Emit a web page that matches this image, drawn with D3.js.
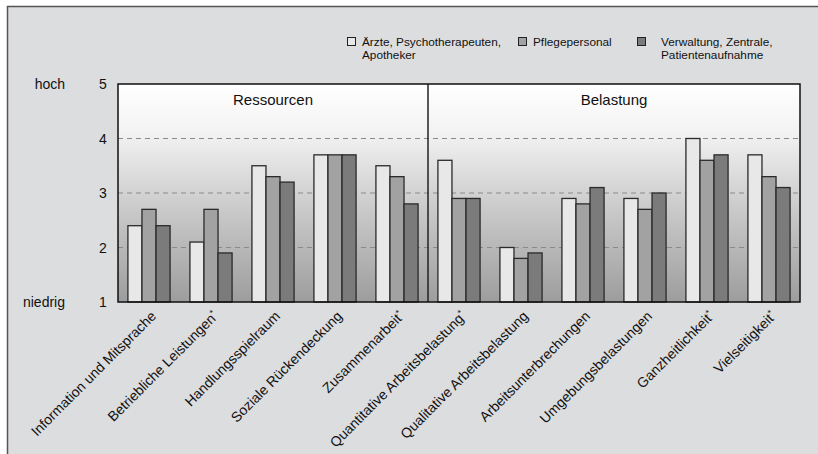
<!DOCTYPE html>
<html>
<head>
<meta charset="utf-8">
<script src="https://cdn.jsdelivr.net/npm/d3@7"></script>
<style>
  html, body { margin: 0; padding: 0; background: #ffffff; }
  svg { display: block; font-family: "Liberation Sans", Arial, Helvetica, sans-serif; }
</style>
</head>
<body>
<svg id="chart" width="818" height="454"></svg>
<script>
// Skalenwerte 1 (niedrig) bis 5 (hoch) je Berufsgruppe
const categories = [
  "Information und Mitsprache",
  "Betriebliche Leistungen*",
  "Handlungsspielraum",
  "Soziale Rückendeckung",
  "Zusammenarbeit*",
  "Quantitative Arbeitsbelastung*",
  "Qualitative Arbeitsbelastung",
  "Arbeitsunterbrechungen",
  "Umgebungsbelastungen",
  "Ganzheitlichkeit*",
  "Vielseitigkeit*"
];
const seriesNames = [
  ["Ärzte, Psychotherapeuten,", "Apotheker"],
  ["Pflegepersonal"],
  ["Verwaltung, Zentrale,", "Patientenaufnahme"]
];
const aerzte      = [2.4, 2.1, 3.5, 3.7, 3.5, 3.6, 2.0, 2.9, 2.9, 4.0, 3.7];
const pflege      = [2.7, 2.7, 3.3, 3.7, 3.3, 2.9, 1.8, 2.8, 2.7, 3.6, 3.3];
const verwaltung  = [2.4, 1.9, 3.2, 3.7, 2.8, 2.9, 1.9, 3.1, 3.0, 3.7, 3.1];
const yTicks = [1, 2, 3, 4, 5];
const sections = [
  { name: "Ressourcen", from: 0, to: 4 },
  { name: "Belastung",  from: 5, to: 10 }
];
const colors = ["#e8e8e8", "#a2a2a2", "#7b7b7b"];

const series = [aerzte, pflege, verwaltung];

const svg = d3.select("#chart");
const W = 818, H = 454;

// Hintergrund mit Rahmen links und oben
svg.append("rect").attr("x", 7).attr("y", 6).attr("width", W - 7).attr("height", H - 6)
  .attr("fill", "#dcdddf");
svg.append("path").attr("d", `M7.5,${H} V6.5 H${W}`)
  .attr("fill", "none").attr("stroke", "#555").attr("stroke-width", 1.5);

const plot = { left: 118, right: 800, top: 84, bottom: 302 };

const x0 = d3.scaleBand().domain(categories)
  .range([plot.left, plot.right]).paddingInner(0.32).paddingOuter(0.16);
const x1 = d3.scaleBand().domain(d3.range(series.length)).range([0, x0.bandwidth()]);
const y = d3.scaleLinear().domain([1, 5]).range([plot.bottom, plot.top]);

// Verlauf im Diagrammbereich
const defs = svg.append("defs");
const grad = defs.append("linearGradient").attr("id", "bg").attr("x1", 0).attr("y1", 0).attr("x2", 0).attr("y2", 1);
[[0, "#ffffff"], [0.22, "#f3f3f3"], [0.5, "#d2d2d2"], [1, "#9d9d9d"]].forEach(([o, c]) =>
  grad.append("stop").attr("offset", o).attr("stop-color", c));

svg.append("rect")
  .attr("x", plot.left).attr("y", plot.top)
  .attr("width", plot.right - plot.left).attr("height", plot.bottom - plot.top)
  .attr("fill", "url(#bg)");

// gestrichelte Hilfslinien
svg.append("g").selectAll("line").data(yTicks.filter(t => t > 1 && t < 5)).join("line")
  .attr("x1", plot.left).attr("x2", plot.right)
  .attr("y1", d => y(d)).attr("y2", d => y(d))
  .attr("stroke", "#8a8a8a").attr("stroke-width", 1).attr("stroke-dasharray", "5,4");

// Balken
const groups = svg.append("g").selectAll("g").data(categories).join("g")
  .attr("transform", d => `translate(${x0(d)},0)`);
groups.selectAll("rect")
  .data((d, i) => series.map((s, k) => ({ k, v: s[i] })))
  .join("rect")
  .attr("x", d => x1(d.k))
  .attr("y", d => y(d.v))
  .attr("width", x1.bandwidth())
  .attr("height", d => y(1) - y(d.v))
  .attr("fill", d => colors[d.k])
  .attr("stroke", "#2a2a2a").attr("stroke-width", 1.3);

// Trennlinie zwischen Ressourcen und Belastung
const step = x0.step();
const divX = x0(categories[sections[1].from]) - step * x0.paddingInner() / 2;
svg.append("line").attr("x1", divX).attr("x2", divX)
  .attr("y1", plot.top).attr("y2", plot.bottom)
  .attr("stroke", "#222").attr("stroke-width", 1.5);

// Rahmen
svg.append("rect")
  .attr("x", plot.left).attr("y", plot.top)
  .attr("width", plot.right - plot.left).attr("height", plot.bottom - plot.top)
  .attr("fill", "none").attr("stroke", "#111").attr("stroke-width", 1.5);

// Abschnittstitel
const bounds = [plot.left, divX, plot.right];
svg.append("g").selectAll("text").data(sections).join("text")
  .attr("x", (d, i) => (bounds[i] + bounds[i + 1]) / 2)
  .attr("y", 105)
  .attr("text-anchor", "middle")
  .attr("font-size", 15).attr("fill", "#111")
  .text(d => d.name);

// y-Achse
const yAxis = svg.append("g");
yAxis.selectAll("text").data(yTicks).join("text")
  .attr("x", 103).attr("y", d => y(d))
  .attr("dy", "0.36em").attr("text-anchor", "middle")
  .attr("font-size", 14).attr("fill", "#111")
  .text(d => d);
yAxis.append("text").attr("x", 65).attr("y", y(5)).attr("dy", "0.36em")
  .attr("text-anchor", "end").attr("font-size", 14).attr("fill", "#111").text("hoch");
yAxis.append("text").attr("x", 65).attr("y", y(1)).attr("dy", "0.36em")
  .attr("text-anchor", "end").attr("font-size", 14).attr("fill", "#111").text("niedrig");

// Kategorienbeschriftung, um 45° gedreht
const labels = svg.append("g").selectAll("text").data(categories).join("text")
  .attr("transform", d => `translate(${x0(d) + x0.bandwidth() / 2 + 2},${plot.bottom + 9}) rotate(-45)`)
  .attr("text-anchor", "end")
  .attr("dy", "0.6em")
  .attr("font-size", 14).attr("fill", "#111");
labels.append("tspan").text(d => d.replace("*", ""));
labels.filter(d => d.endsWith("*")).append("tspan")
  .attr("font-size", 9).attr("dy", "-0.55em").text("*");

// Legende
const legendX = [347, 518, 637];
const legendTextX = [362, 533, 661];
const legend = svg.append("g").selectAll("g").data(seriesNames).join("g");
legend.append("rect")
  .attr("x", (d, i) => legendX[i] + 0.5).attr("y", 37.5)
  .attr("width", 8).attr("height", 8)
  .attr("fill", (d, i) => colors[i]).attr("stroke", "#222").attr("stroke-width", 1);
legend.append("text")
  .attr("x", (d, i) => legendTextX[i]).attr("y", 46)
  .attr("font-size", 11.8).attr("fill", "#111")
  .selectAll("tspan").data(d => d).join("tspan")
  .attr("x", function () { return d3.select(this.parentNode).attr("x"); })
  .attr("dy", (d, i) => i === 0 ? 0 : 13)
  .text(d => d);
</script>
</body>
</html>
